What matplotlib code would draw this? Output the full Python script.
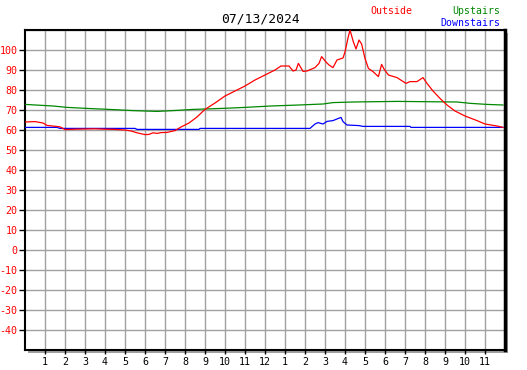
import matplotlib
matplotlib.use("Agg")
import matplotlib.pyplot as plt
from matplotlib.patches import Rectangle

title = "07/13/2024"
hour_labels = ["1","2","3","4","5","6","7","8","9","10","11","12",
               "1","2","3","4","5","6","7","8","9","10","11"]
y_ticks = [-40,-30,-20,-10,0,10,20,30,40,50,60,70,80,90,100]

out_h = [0,0.5,0.9,1.1,1.75,2.0,2.5,3.0,3.5,4.0,4.5,5.0,5.3,5.6,6.0,6.2,6.4,6.6,6.8,7.1,
         7.5,7.8,8.2,8.6,9.0,9.5,10.0,10.5,11.0,11.5,12.0,12.5,12.8,13.2,13.4,13.55,13.67,
         13.9,14.1,14.5,14.7,14.83,15.05,15.2,15.4,15.6,15.9,16.0,16.15,16.25,16.42,16.55,
         16.7,16.83,17.0,17.17,17.4,17.67,17.83,17.95,18.17,18.6,19.05,19.25,19.6,19.9,20.1,
         20.4,20.75,21.1,21.5,22.0,22.6,23.0,23.6,23.9]
out_v = [64,64.2,63.5,62.3,61.6,60.2,60.4,60.5,60.6,60.4,60.3,60.0,59.5,58.6,57.7,57.8,58.6,58.3,58.7,58.8,
         59.7,61.5,63.5,66.5,70.3,73.5,77,79.5,82,85,87.5,90,92,92,89.5,90,93.3,
         89.3,89.5,91.2,93.3,96.7,94,92.5,91.2,95,96,99,106,110,104,100.5,
         105,103,95.8,90.8,89.2,86.7,92.8,90.5,87.5,86.2,83.3,84.2,84.2,86.2,83.3,
         79.5,75.8,72.5,69.5,67,64.7,63,62,61.3]

up_h = [0,0.7,1.4,2.1,3.1,4.2,5.4,6.6,7.6,8.4,9.3,10.1,11.0,12.3,13.7,14.9,15.4,16.4,18.6,21.6,22.3,23.1,23.9]
up_v = [72.8,72.4,72.0,71.3,70.8,70.3,69.7,69.3,69.8,70.3,70.6,70.9,71.3,72.0,72.5,73.0,73.7,74.0,74.3,74.0,73.3,72.8,72.5]

dn_h = [0,1.6,1.75,5.5,5.6,8.7,8.75,14.25,14.5,14.65,14.9,15.1,15.4,15.67,15.8,15.9,16.1,16.7,16.9,19.25,19.3,23.9]
dn_v = [61.3,61.3,60.8,60.8,60.3,60.3,60.8,60.8,63.0,63.7,63.0,64.3,64.7,65.8,66.3,64.2,62.5,62.2,61.8,61.8,61.3,61.3]

W, H = 527, 370
fig = plt.figure(figsize=(W/100, H/100), dpi=100)
L, R, T, B = 25, 505, 30, 350
ax = fig.add_axes([L/W, (H-B)/H, (R-L)/W, (B-T)/H])

# shadow
fig.patches.append(Rectangle(((L+3)/W, (H-B-3)/H), (R-L)/W, (B-T)/H,
                             transform=fig.transFigure, facecolor="#a0a0a0",
                             edgecolor="none", zorder=-1))
ax.set_facecolor("white")

mono = "DejaVu Sans Mono"
ax.plot(up_h, up_v, color="#008800", lw=0.9, zorder=3)
ax.plot(dn_h, dn_v, color="#0000ff", lw=0.9, zorder=3)
ax.plot(out_h, out_v, color="#ff0000", lw=0.9, zorder=4)

ax.set_xlim(0, 24)
ax.set_ylim(-50, 110)
ax.set_xticks(range(1, 24))
ax.set_xticklabels(hour_labels, fontsize=7.2, family=mono)
ax.set_yticks(y_ticks)
ax.set_yticklabels([str(v) for v in y_ticks], fontsize=7.2, color="#ff0000", family=mono)
ax.set_yticks([110], minor=True)
ax.grid(True, which="both", color="#a0a0a0", lw=1.0)
ax.set_axisbelow(True)
ax.tick_params(axis="y", direction="out", length=4, width=1, color="black", pad=1.5, which="major")
ax.tick_params(axis="y", which="minor", length=0)
ax.tick_params(axis="x", direction="out", length=3, width=1, color="black", pad=2)
for s in ax.spines.values():
    s.set_color("black")
    s.set_linewidth(1.5)
ax.spines["right"].set_linewidth(2.5)

fig.text(261/W, 1-19/H, title, ha="center", va="center", fontsize=9.4,
         family=mono, color="black")
fig.text(391/W, 1-11/H, "Outside", ha="center", va="center", fontsize=7.1,
         family=mono, color="#ff0000")
fig.text(500/W, 1-11/H, "Upstairs", ha="right", va="center", fontsize=7.1,
         family=mono, color="#008800")
fig.text(500/W, 1-23/H, "Downstairs", ha="right", va="center", fontsize=7.1,
         family=mono, color="#0000ff")

fig.savefig("out.png", dpi=100)
